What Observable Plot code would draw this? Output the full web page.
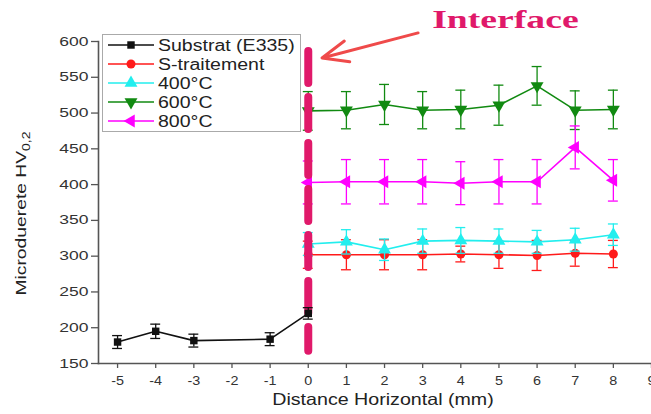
<!DOCTYPE html>
<html>
<head>
<meta charset="utf-8">
<script src="https://cdn.jsdelivr.net/npm/d3@7"></script>
<script src="https://cdn.jsdelivr.net/npm/@observablehq/plot@0.6"></script>
<style>
  html, body { margin: 0; padding: 0; background: #fff; overflow: hidden; }
  #chart { position: relative; width: 651px; height: 414px; }
  #legend { position: absolute; left: 102px; top: 34px; }
</style>
</head>
<body>
<div id="chart"></div>
<script>
// ---------- data ----------
const xTicks = [-5, -4, -3, -2, -1, 0, 1, 2, 3, 4, 5, 6, 7, 8, 9];
const yTicks = [150, 200, 250, 300, 350, 400, 450, 500, 550, 600];

const substratX = [-5, -4, -3, -1, 0];
const substratY = [180, 195, 182, 184, 220];
const substratErr = [9, 10, 9, 9, 8];

const treatedX = [0, 1, 2, 3, 4, 5, 6, 7, 8];
const sTraitementY = [302, 302, 302, 302, 303, 302, 301, 304, 303];
const sTraitementErr = [19, 21, 21, 21, 11, 19, 21, 18, 19];
const t400Y = [317, 320, 309, 321, 322, 321, 320, 323, 330];
const t400Err = [16, 17, 15, 17, 18, 17, 16, 16, 15];
const t600Y = [503, 504, 512, 504, 505, 511, 538, 504, 505];
const t600Err = [27, 26, 28, 26, 27, 28, 27, 27, 27];
const t800Y = [403, 404, 404, 404, 402, 404, 404, 452, 406];
const t800Err = [30, 31, 31, 31, 30, 31, 31, 30, 29];

const seriesNames = ["Substrat (E335)", "S-traitement", "400°C", "600°C", "800°C"];
const seriesColors = ["#111111", "#ff1a1a", "#22eeee", "#118a11", "#ff00ff"];

const interfaceX = [0];
const interfaceRange = [586, 167];
const interfaceLabel = ["Interface"];
const interfaceLabelPos = [{x: 5.17, y: 600}];
const arrowPos = [{x1: 2.88, y1: 612, x2: 0.36, y2: 577}];

const xTitle = "Distance Horizontal (mm)";
const yTitleMain = "Microduerete HV";
const yTitleSub = "0,2";

// ---------- custom symbols ----------
const sqrt3 = Math.sqrt(3);
const triDown = { draw(ctx, size) {
  const y = -Math.sqrt(size / (sqrt3 * 3));
  ctx.moveTo(0, -2 * y); ctx.lineTo(-sqrt3 * y, y); ctx.lineTo(sqrt3 * y, y); ctx.closePath();
}};
const triLeft = { draw(ctx, size) {
  const y = -Math.sqrt(size / (sqrt3 * 3));
  ctx.moveTo(2 * y, 0); ctx.lineTo(-y, sqrt3 * y); ctx.lineTo(-y, -sqrt3 * y); ctx.closePath();
}};
const seriesSymbols = [d3.symbolSquare, d3.symbolCircle, d3.symbolTriangle, triDown, triLeft];
const seriesR = [4.2, 4.5, 4.8, 4.8, 4.8];

// ---------- tables ----------
const rows = (xs, ys, es) => xs.map((x, i) => ({x, y: ys[i], e: es[i]}));
const series = [
  rows(substratX, substratY, substratErr),
  rows(treatedX, sTraitementY, sTraitementErr),
  rows(treatedX, t400Y, t400Err),
  rows(treatedX, t600Y, t600Err),
  rows(treatedX, t800Y, t800Err)
];

const capHalf = 0.13;
function seriesMarks(i) {
  const data = series[i], c = seriesColors[i];
  return [
    Plot.ruleX(data, {x: "x", y1: d => d.y - d.e, y2: d => d.y + d.e, stroke: c, strokeWidth: 1.3}),
    Plot.ruleY(data, {y: d => d.y - d.e, x1: d => d.x - capHalf, x2: d => d.x + capHalf, stroke: c, strokeWidth: 1.3}),
    Plot.ruleY(data, {y: d => d.y + d.e, x1: d => d.x - capHalf, x2: d => d.x + capHalf, stroke: c, strokeWidth: 1.3}),
    Plot.line(data, {x: "x", y: "y", stroke: c, strokeWidth: 1.6}),
    Plot.dot(data, {x: "x", y: "y", fill: c, stroke: "none", symbol: seriesSymbols[i], r: seriesR[i]})
  ];
}

const plot = Plot.plot({
  width: 651, height: 414,
  marginLeft: 98, marginTop: 41, marginBottom: 51, marginRight: 0,
  style: {fontFamily: "'Liberation Sans', Arial, sans-serif", fontSize: "12.5px", color: "#333", background: "white", overflow: "visible"},
  x: {domain: [-5.5, 9]},
  y: {domain: [150, 600]},
  marks: [
    Plot.axisX({ticks: xTicks, tickFormat: d => String(d), tickSize: 5, tickPadding: 8, stroke: "#555", strokeWidth: 1.3, label: null, fill: "#333"}),
    Plot.axisY({ticks: yTicks, tickFormat: d => String(d), tickSize: 7, tickPadding: 3, stroke: "#555", strokeWidth: 1.3, label: null, fill: "#333"}),
    Plot.frame({anchor: "bottom", stroke: "#555", strokeWidth: 1.6}),
    Plot.frame({anchor: "left", stroke: "#555", strokeWidth: 1.6}),
    ...seriesMarks(1),
    ...seriesMarks(2),
    ...seriesMarks(3),
    ...seriesMarks(4),
    Plot.ruleX(interfaceX, {x: d => d, y1: interfaceRange[0], y2: interfaceRange[1], stroke: "#e0196a", strokeWidth: 8, strokeDasharray: "32,14", strokeLinecap: "round"}),
    ...seriesMarks(0),
    Plot.arrow(arrowPos, {x1: "x1", y1: "y1", x2: "x2", y2: "y2", stroke: "#ef4a4a", strokeWidth: 3, headLength: 14, headAngle: 45}),
    Plot.text(interfaceLabel, {x: () => interfaceLabelPos[0].x, y: () => interfaceLabelPos[0].y, text: d => d, dy: -22, fill: "#e0196a", fontFamily: "'Liberation Serif', 'Times New Roman', serif", fontWeight: "bold", fontSize: 26, className: "ann-title"}),
    Plot.text([xTitle], {frameAnchor: "bottom", text: d => d, dy: 41.5, dx: 8, fill: "#222", fontSize: 16.5, className: "x-title"})
  ]
});

const chart = document.getElementById("chart");
chart.appendChild(plot);

// y title with subscript
const svg = d3.select(plot);
const yt = svg.append("text")
  .attr("transform", "translate(26,213.5) rotate(-90)")
  .attr("text-anchor", "middle")
  .attr("fill", "#222")
  .attr("font-family", "'Liberation Sans', Arial, sans-serif")
  .attr("font-size", 14.5);
yt.append("tspan").text(yTitleMain);
yt.append("tspan").attr("font-size", 10.5).attr("dy", 4).text(yTitleSub);

// legend
const legW = 199, legH = 98, rowH = 19;
const leg = d3.select(chart).append("svg").attr("id", "legend")
  .attr("width", legW).attr("height", legH);
leg.append("rect").attr("x", 0.5).attr("y", 0.5).attr("width", legW - 1).attr("height", legH - 1)
  .attr("fill", "white").attr("stroke", "#aaa").attr("stroke-width", 1);
seriesNames.forEach((name, i) => {
  const cy = 11 + i * rowH;
  const g = leg.append("g");
  g.append("line").attr("x1", 6).attr("x2", 52).attr("y1", cy).attr("y2", cy)
    .attr("stroke", seriesColors[i]).attr("stroke-width", 1.6);
  const r = seriesR[i];
  g.append("path").attr("transform", `translate(29,${cy})`)
    .attr("d", d3.symbol(seriesSymbols[i], Math.PI * r * r)())
    .attr("fill", seriesColors[i]);
  g.append("text").attr("class", "leg-text").attr("x", 56).attr("y", cy + 5.7)
    .attr("fill", "#222").attr("font-family", "'Liberation Sans', Arial, sans-serif")
    .attr("font-size", 16).text(name);
});

// horizontal stretch of the text to match the reference's wide lettering
function stretch(nodes, f) {
  nodes.forEach(t => {
    const L = t.getComputedTextLength();
    if (L > 0) { t.setAttribute("textLength", (L * f).toFixed(1)); t.setAttribute("lengthAdjust", "spacingAndGlyphs"); }
  });
}
stretch(Array.from(plot.querySelectorAll('g[aria-label="x-axis tick label"] text')), 1.15);
stretch(Array.from(plot.querySelectorAll('g[aria-label="y-axis tick label"] text')), 1.4);
stretch(Array.from(plot.querySelectorAll('.x-title text, g.x-title text')), 1.19);
stretch(Array.from(plot.querySelectorAll('.ann-title text, g.ann-title text')), 1.45);
stretch([yt.node()], 1.33);
stretch(Array.from(document.querySelectorAll('#legend .leg-text')), 1.22);
</script>
</body>
</html>
